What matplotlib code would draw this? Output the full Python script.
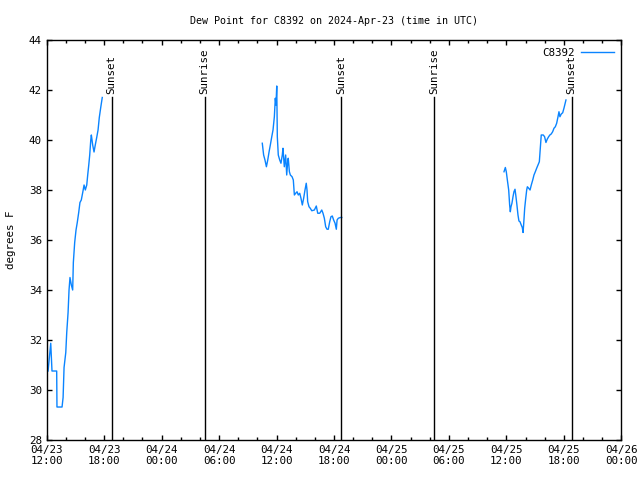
import matplotlib
matplotlib.use("Agg")
import matplotlib.pyplot as plt
import matplotlib.dates as mdates
import pandas as pd

# Hours after 2024-04-23 12:00 UTC, dew point in degrees F
start = pd.Timestamp("2024-04-23 12:00")

hours_1 = [0.14, 0.42, 0.55, 1.04, 1.07, 1.60, 1.71, 1.81, 1.99, 2.09, 2.23, 2.33, 2.43,
           2.57, 2.71, 2.78, 2.92, 3.06, 3.19, 3.34, 3.47, 3.61, 3.76, 3.90, 4.03, 4.18,
           4.28, 4.39, 4.49, 4.60, 4.66, 4.80, 4.94, 5.07, 5.22, 5.36, 5.49, 5.64, 5.80]
dew_1 = [30.76, 31.87, 30.76, 30.76, 29.32, 29.32, 29.7, 30.9, 31.5, 32.3, 33.1, 34.0, 34.5,
         34.2, 34.0, 35.1, 35.9, 36.4, 36.7, 37.1, 37.5, 37.6, 37.9, 38.2, 38.0, 38.2,
         38.6, 39.0, 39.4, 40.0, 40.2, 39.8, 39.52, 39.8, 40.1, 40.4, 40.9, 41.3, 41.7]

hours_2 = [22.51, 22.65, 22.79, 22.94, 23.08, 23.22, 23.35, 23.50, 23.63, 23.77, 23.87, 23.94,
           24.02, 24.08, 24.18, 24.33, 24.46, 24.60, 24.67, 24.81, 24.95, 25.06, 25.16, 25.22,
           25.34, 25.44, 25.62, 25.75, 25.86, 26.00, 26.14, 26.27, 26.42, 26.55, 26.69, 26.83,
           26.97, 27.10, 27.18, 27.25, 27.39, 27.52, 27.68, 27.95, 28.15, 28.30, 28.51, 28.72,
           28.85, 28.99, 29.13, 29.27, 29.40, 29.55, 29.68, 29.82, 29.96, 30.11, 30.24, 30.32,
           30.45, 30.66, 30.81]
dew_2 = [39.87, 39.4, 39.2, 38.93, 39.2, 39.53, 39.8, 40.13, 40.4, 40.93, 41.67, 41.4,
         42.16, 40.13, 39.4, 39.2, 39.07, 39.4, 39.67, 38.93, 39.4, 38.6, 39.13, 39.27,
         38.73, 38.6, 38.53, 38.4, 37.8, 37.87, 37.93, 37.8, 37.87, 37.67, 37.4, 37.67,
         38.0, 38.27, 38.0, 37.53, 37.33, 37.27, 37.17, 37.2, 37.36, 37.07, 37.07, 37.2,
         37.07, 36.87, 36.53, 36.43, 36.43, 36.73, 36.93, 36.96, 36.8, 36.67, 36.43, 36.8,
         36.87, 36.9, 36.9]

hours_3 = [47.75, 47.89, 47.99, 48.10, 48.24, 48.34, 48.41, 48.48, 48.58, 48.69, 48.79, 48.90,
           49.00, 49.10, 49.21, 49.31, 49.42, 49.55, 49.66, 49.74, 49.81, 49.91, 50.02, 50.12,
           50.19, 50.33, 50.47, 50.60, 50.75, 50.88, 51.02, 51.16, 51.30, 51.44, 51.54, 51.64,
           51.85, 51.99, 52.13, 52.26, 52.41, 52.54, 52.68, 52.83, 52.97, 53.11, 53.25, 53.39,
           53.49, 53.59, 53.73, 53.88, 54.01, 54.15, 54.22]
dew_3 = [38.73, 38.9, 38.73, 38.4, 38.0, 37.4, 37.13, 37.33, 37.47, 37.73, 37.93, 38.03,
         37.73, 37.4, 37.0, 36.76, 36.73, 36.6, 36.5, 36.3, 36.67, 37.27, 37.67, 38.0,
         38.13, 38.07, 38.0, 38.2, 38.4, 38.6, 38.73, 38.87, 39.0, 39.13, 39.67, 40.2,
         40.2, 40.13, 39.9, 40.03, 40.13, 40.2, 40.24, 40.33, 40.47, 40.53, 40.67, 40.93,
         41.13, 40.93, 41.04, 41.09, 41.27, 41.49, 41.6]

# Sun events (hours after start)
event_hours = [6.79, 16.48, 30.78, 40.49, 54.80]
event_names = ["Sunset", "Sunrise", "Sunset", "Sunrise", "Sunset"]

def to_time(h):
    return start + pd.to_timedelta(h, unit="h")

plt.rcParams['font.family'] = ['DejaVu Sans Mono']
plt.rcParams['font.size'] = 7.8

fig = plt.figure(figsize=(6.4, 4.8), dpi=100)
ax = fig.add_axes([0.0730, 0.0833, 0.8978, 0.8334])

color = '#0a84ff'
ax.plot(to_time(hours_1), dew_1, color=color, lw=1, label='C8392')
ax.plot(to_time(hours_2), dew_2, color=color, lw=1)
ax.plot(to_time(hours_3), dew_3, color=color, lw=1)

for h, name in zip(event_hours, event_names):
    t = to_time(h)
    ax.plot([t, t], [28, 41.7], color='black', lw=1)
    ax.text(t, 41.85, name, rotation=90, ha='center', va='bottom', fontsize=7.8)

ax.set_xlim(start, start + pd.Timedelta(hours=60))
ax.set_ylim(28, 44)
ax.set_yticks(range(28, 45, 2))
ax.xaxis.set_major_locator(mdates.HourLocator(byhour=[0, 6, 12, 18]))
ax.xaxis.set_minor_locator(mdates.HourLocator(interval=2))
ax.xaxis.set_major_formatter(mdates.DateFormatter('%m/%d\n%H:%M'))
ax.tick_params(which='major', direction='in', top=True, right=True, length=3.6, width=1)
ax.tick_params(which='minor', direction='in', top=True, right=True, length=2, width=1)
ax.tick_params(axis='y', which='minor', left=False, right=False)
for s in ax.spines.values():
    s.set_linewidth(1)

ax.set_title('Dew Point for C8392 on 2024-Apr-23 (time in UTC)', fontsize=7.2, pad=11.5)
ax.set_ylabel('degrees F', labelpad=9.5)
ax.legend(loc='upper right', frameon=False, handlelength=3.0, handletextpad=0.6,
          markerfirst=False, borderaxespad=0.3, fontsize=7.8)

fig.savefig('out.png', dpi=100)
